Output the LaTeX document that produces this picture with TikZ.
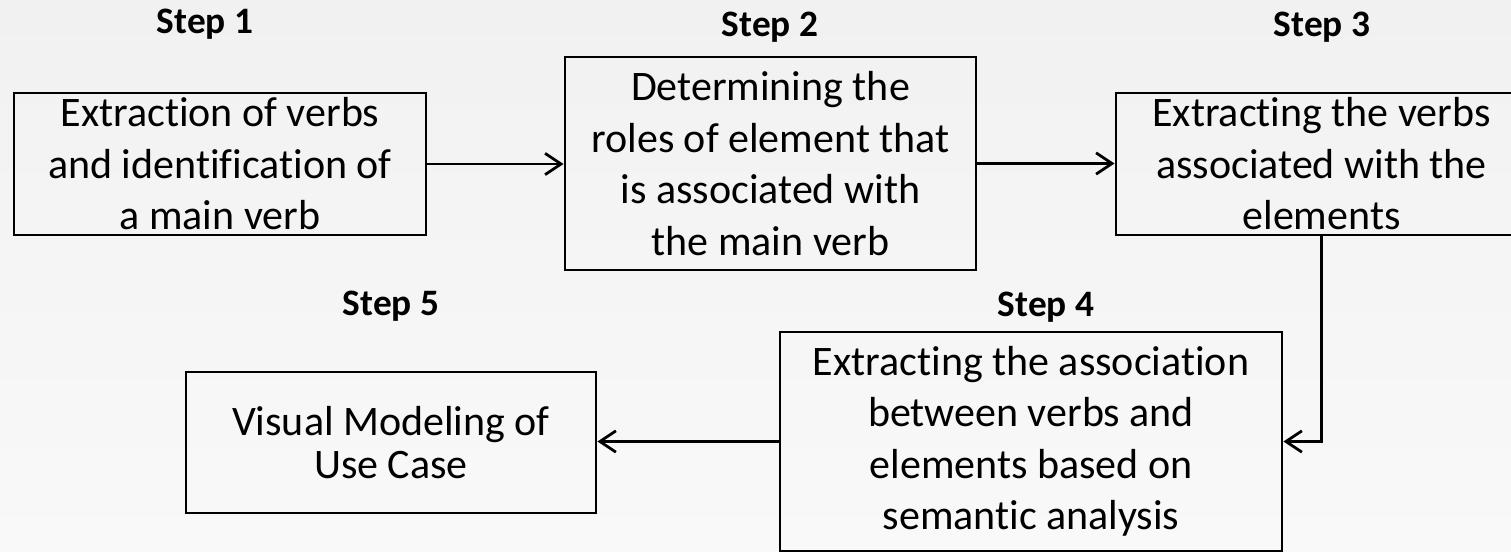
\documentclass[tikz,border=0pt]{standalone}
\usepackage{fontspec}
\setmainfont{Carlito}[Ligatures={NoCommon}]
\usetikzlibrary{arrows.meta}
\newlength\pxu
\setlength\pxu{0.75pt}
\definecolor{bgtop}{HTML}{F1F1F1}
\definecolor{bgbot}{HTML}{F9F9F9}
\begin{document}
\begin{tikzpicture}[x=0.75pt, y=-0.75pt,
  stepbox/.style={draw=black, line width=2.1pt, inner sep=0pt, align=center,
    font=\fontsize{31.5}{38.6}\selectfont},
  steplabel/.style={anchor=base, inner sep=0pt, font=\fontsize{28}{33}\selectfont\bfseries},
  flow/.style={line width=2.1pt, -{Straight Barb[length=12pt, width=16pt, line width=2.1pt]}}]
  % page and background
  \useasboundingbox (0,0) rectangle (1511,551);
  \shade[top color=bgtop, bottom color=bgbot] (0,0) rectangle (1511,551);
  \clip (0,0) rectangle (1511,551);

  % step headings
  \node[steplabel] (s1) at (205,33)  {Step 1};
  \node[steplabel] (s2) at (770,36)  {Step 2};
  \node[steplabel] (s3) at (1322,36) {Step 3};
  \node[steplabel] (s4) at (1046,316) {Step 4};
  \node[steplabel] (s5) at (391,315) {Step 5};

  % process boxes
  \node[stepbox, minimum width=412\pxu, minimum height=142\pxu] (b1) at (220,164)
    {Extraction of verbs\\and identification of\\a main verb};
  \node[stepbox, minimum width=411\pxu, minimum height=213\pxu] (b2) at (770.5,163.5)
    {Determining the\\roles of element that\\is associated with\\the main verb};
  \node[stepbox, minimum width=411\pxu, minimum height=142\pxu] (b3) at (1321.5,164)
    {Extracting the verbs\\associated with the\\elements};
  \node[stepbox, minimum width=502\pxu, minimum height=219\pxu] (b4) at (1031,441.5)
    {Extracting the association\\between verbs and\\elements based on\\semantic analysis};
  \node[stepbox, minimum width=410\pxu, minimum height=141\pxu,
        font=\fontsize{31.5}{32.3}\selectfont] (b5) at (391,442.5)
    {Visual Modeling of\\Use Case};

  % connectors
  \draw[flow] (b1.east) -- (b1.east -| b2.west);
  \draw[flow] (b2.east) -- (b2.east -| b3.west);
  \draw[flow] (b3.south) |- (b4.east);
  \draw[flow] (b4.west) -- (b4.west -| b5.east);
\end{tikzpicture}
\end{document}
